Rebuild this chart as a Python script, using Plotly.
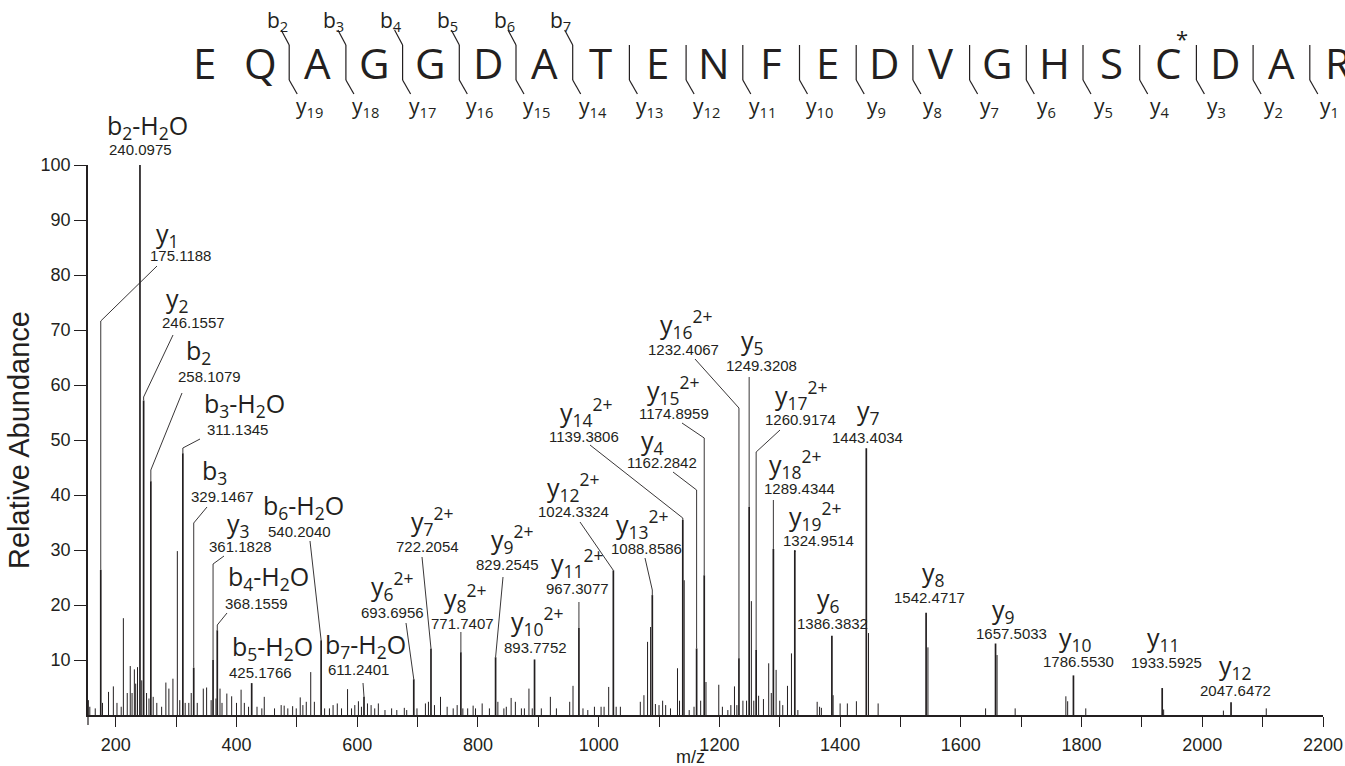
import plotly.graph_objects as go

# ---------------- data ----------------
ion_keys = ["y1", "b2-H2O", "y2", "b2", "b3-H2O", "b3", "y3", "b4-H2O", "b5-H2O", "b6-H2O",
            "b7-H2O", "y6 2+", "y7 2+", "y8 2+", "y9 2+", "y10 2+", "y11 2+", "y12 2+", "y13 2+",
            "y14 2+", "y4", "y15 2+", "y16 2+", "y5", "y17 2+", "y18 2+", "y19 2+", "y6", "y7",
            "y8", "y9", "y10", "y11", "y12"]
ion_mz = [175.1188, 240.0975, 246.1557, 258.1079, 311.1345, 329.1467, 361.1828, 368.1559,
          425.1766, 540.2040, 611.2401, 693.6956, 722.2054, 771.7407, 829.2545, 893.7752,
          967.3077, 1024.3324, 1088.8586, 1139.3806, 1162.2842, 1174.8959, 1232.4067,
          1249.3208, 1260.9174, 1289.4344, 1324.9514, 1386.3832, 1443.4034, 1542.4717,
          1657.5033, 1786.5530, 1933.5925, 2047.6472]
ion_int = [26.4, 100, 57.2, 42.5, 47.6, 8.6, 10.0, 15.4, 5.8, 13.6, 3.3, 6.5, 12.1, 11.4, 10.5,
           10.1, 15.8, 26.3, 21.8, 35.5, 12.1, 25.4, 10.3, 37.8, 11.8, 30.2, 29.9, 14.4, 48.5,
           18.6, 13.0, 7.2, 4.9, 2.3]

other_mz = [154.6, 157, 166, 178, 188, 196, 202, 209, 212.6, 219, 224, 227, 230.8, 233, 236, 243,
            251, 255, 262, 268, 276, 283, 288, 294.7, 302, 306, 315, 321, 325, 335, 345, 350.5,
            358, 366, 372.7, 376, 384, 392, 400, 407.6, 413, 420, 434, 442,
            446, 463, 474, 479, 485, 493, 499, 505.6, 510, 515.6, 523, 529, 546, 554, 560, 567,
            574, 584, 590.6, 596, 602, 607, 617, 623, 629, 635, 646, 657, 665.6, 678, 682, 699,
            713, 718, 728, 738, 749, 759, 765.6,
            775, 783, 792, 796, 807, 819, 833, 843, 847, 855, 862, 872, 877, 884.5, 890, 905,
            920, 930, 952, 957.5, 974, 982, 993, 1004, 1009, 1016.6, 1029, 1036,
            1069, 1075, 1081, 1086, 1094, 1100, 1106, 1111, 1119, 1130.6, 1134, 1141.7, 1150,
            1158, 1169, 1177.8, 1199, 1205, 1214, 1219, 1225, 1229, 1239, 1245, 1253, 1257,
            1265, 1273, 1281.7, 1286, 1294, 1300, 1305, 1312.8, 1319.4, 1330, 1362, 1366, 1369,
            1388.4, 1400, 1412, 1427, 1447, 1463, 1545.5, 1641, 1660, 1690, 1774, 1777, 1807,
            1936, 2035, 2106]
other_int = [2.7, 1.5, 1.2, 2.2, 4.2, 5.2, 2.2, 1.5, 17.6, 4.0, 8.9, 4.0, 8.3, 5.7, 8.7, 6.3,
             4.0, 3.0, 3.3, 2.2, 1.5, 5.9, 4.8, 6.6, 29.8, 2.7, 2.2, 2.2, 4.0, 2.2, 4.8, 5.0,
             2.7, 3.0, 4.8, 2.2, 3.9, 3.4, 2.2, 4.6, 2.2, 1.5, 1.5, 1.2,
             3.3, 1.2, 1.8, 1.7, 1.2, 1.6, 1.2, 3.2, 1.8, 2.4, 7.8, 2.4, 1.2, 1.2, 1.8, 2.1,
             1.2, 4.7, 1.2, 1.8, 2.5, 1.5, 2.1, 1.8, 1.2, 2.1, 0.9, 1.2, 0.9, 1.3, 0.9, 1.2,
             2.1, 2.4, 1.8, 3.3, 1.5, 1.2, 1.8,
             1.2, 1.2, 1.7, 1.2, 2.1, 1.2, 2.4, 1.2, 1.5, 3.1, 2.4, 1.2, 1.2, 4.8, 1.2, 1.2,
             3.3, 1.2, 2.4, 5.3, 1.2, 0.9, 1.5, 1.5, 1.5, 5.1, 1.5, 1.5,
             2.4, 3.6, 13.3, 16.0, 2.0, 1.8, 2.6, 1.8, 1.2, 8.5, 2.6, 24.5, 0.9,
             1.5, 2.6, 6.0, 5.5, 1.5, 0.9, 1.8, 5.2, 1.8, 2.6, 2.6, 20.7, 2.6,
             3.5, 2.9, 9.4, 4.0, 8.2, 2.6, 1.8, 5.3, 11.2, 0.9, 2.4, 1.5, 1.3,
             3.6, 2.1, 2.1, 2.5, 14.9, 2.1, 12.3, 1.2, 10.9, 1.2, 3.4, 2.5, 1.2,
             1.0, 0.8, 1.2]

sequence = list("EQAGGDATENFEDVGHSCDAR")
b_ion_numbers = [2, 3, 4, 5, 6, 7]
modified_residue = 17  # C*

x_tick_values = list(range(200, 2201, 100))
x_tick_text = [str(v) if v % 200 == 0 else "" for v in x_tick_values]
y_tick_values = list(range(10, 101, 10))

ion_html = {
    "y1": "y<sub>1</sub>", "b2-H2O": "b<sub>2</sub>-H<sub>2</sub>O", "y2": "y<sub>2</sub>",
    "b2": "b<sub>2</sub>", "b3-H2O": "b<sub>3</sub>-H<sub>2</sub>O", "b3": "b<sub>3</sub>",
    "y3": "y<sub>3</sub>", "b4-H2O": "b<sub>4</sub>-H<sub>2</sub>O",
    "b5-H2O": "b<sub>5</sub>-H<sub>2</sub>O", "b6-H2O": "b<sub>6</sub>-H<sub>2</sub>O",
    "b7-H2O": "b<sub>7</sub>-H<sub>2</sub>O",
}
for k in ion_keys:
    if k not in ion_html:
        if " 2+" in k:
            ion_html[k] = "y<sub>%s</sub><sup>2+</sup>" % k[1:].split()[0]
        else:
            ion_html[k] = "y<sub>%s</sub>" % k[1:]

# ---------------- layout geometry (screen pixels) ----------------
W, H = 1345, 766
PL, PR, PT, PB = 88, 1323, 165, 715
X0, X1 = 154, 2200
INK = "#231f20"


def px2mz(px):
    return X0 + (px - PL) * (X1 - X0) / (PR - PL)


def py2ab(py):
    return (PB - py) * 100.0 / (PB - PT)


def ppx(px):
    return (px - PL) / (PR - PL)


def ppy(py):
    return (PB - py) / (PB - PT)


# label placement: name centre, number centre (screen pixels)
label_pos = {
    "b2-H2O": ((147, 126), (140, 149)),
    "y1": ((167, 234), (180, 256)),
    "y2": ((177, 299), (193, 322)),
    "b2": ((198, 351), (209, 376)),
    "b3-H2O": ((244, 404), (237, 429)),
    "b3": ((214, 471), (222, 496)),
    "y3": ((238, 524), (240, 546)),
    "b4-H2O": ((268, 577), (256, 603)),
    "b5-H2O": ((272, 647), (260, 672)),
    "b6-H2O": ((303, 506), (299, 531)),
    "b7-H2O": ((365, 645), (358, 669)),
    "y6 2+": ((392, 586), (392, 612)),
    "y7 2+": ((432, 521), (427, 546)),
    "y8 2+": ((465, 598), (462, 623)),
    "y9 2+": ((512, 539), (507, 564)),
    "y10 2+": ((537, 621), (535, 647)),
    "y11 2+": ((577, 563), (577, 588)),
    "y12 2+": ((573, 487), (573, 511)),
    "y13 2+": ((642, 524), (646, 548)),
    "y14 2+": ((586, 412), (584, 436)),
    "y4": ((652, 441), (662, 463)),
    "y15 2+": ((673, 390), (674, 413)),
    "y16 2+": ((686, 324), (683, 349)),
    "y5": ((752, 341), (761, 365)),
    "y17 2+": ((801, 395), (800, 419)),
    "y18 2+": ((795, 464), (799, 488)),
    "y19 2+": ((816, 516), (818, 540)),
    "y6": ((828, 599), (832, 623)),
    "y7": ((868, 411), (867, 437)),
    "y8": ((933, 573), (930, 597)),
    "y9": ((1003, 610), (1011, 633)),
    "y10": ((1075, 638), (1078, 661)),
    "y11": ((1163, 638), (1166, 662)),
    "y12": ((1235, 666), (1235, 690)),
}

# leader lines: (start px, start py, bend py); start px None -> straight down
leaders = {
    "y1": (157, 266, 321), "y2": (173, 335, 397), "b2": (182, 393, 470),
    "b3-H2O": (200, 439, 448), "b3": (207, 507, 523), "y3": (224, 556, 564),
    "b4-H2O": (227, 613, 625), "b6-H2O": (310, 541, 640), "b7-H2O": (363, 683, 692),
    "y6 2+": (406, 623, 677), "y7 2+": (422, 557, 647), "y8 2+": (None, 632, 648),
    "y9 2+": (503, 577, 657), "y11 2+": (None, 602, 617), "y12 2+": (580, 522, 570),
    "y13 2+": (645, 558, 590), "y14 2+": (590, 445, 518), "y4": (673, 472, 490),
    "y15 2+": (682, 423, 438), "y16 2+": (695, 359, 408), "y5": (None, 377, 380),
    "y17 2+": (780, 430, 452), "y18 2+": (None, 500, 505), "y19 2+": (None, 550, 552),
}

fig = go.Figure()


def stick_xy(mzs, ints):
    xs, ys = [], []
    for m, v in zip(mzs, ints):
        xs += [m, m, None]
        ys += [0, v, None]
    return xs, ys


sx, sy = stick_xy(other_mz, other_int)
fig.add_trace(go.Scatter(x=sx, y=sy, mode="lines", line=dict(color=INK, width=1.0),
                         hoverinfo="skip"))
sx, sy = stick_xy(ion_mz, ion_int)
fig.add_trace(go.Scatter(x=sx, y=sy, mode="lines", line=dict(color=INK, width=1.7),
                         hoverinfo="skip"))

# leader lines
lx, ly = [], []
for key, mz, inten in zip(ion_keys, ion_mz, ion_int):
    if key not in leaders:
        continue
    spx, spy, bpy = leaders[key]
    start_x = mz if spx is None else px2mz(spx)
    lx += [start_x, mz, mz, None]
    ly += [py2ab(spy), py2ab(bpy), inten, None]
fig.add_trace(go.Scatter(x=lx, y=ly, mode="lines", line=dict(color=INK, width=0.9),
                         hoverinfo="skip"))

annotations = []
NAME_FONT = dict(family="Open Sans, Liberation Sans, sans-serif", size=25, color=INK)
NUM_FONT = dict(family="Liberation Sans, Arial, sans-serif", size=15, color=INK)
for key, mz in zip(ion_keys, ion_mz):
    (nx, ny), (mx, my) = label_pos[key]
    annotations.append(dict(x=ppx(nx), y=ppy(ny), xref="paper", yref="paper",
                            text=ion_html[key], showarrow=False, font=NAME_FONT,
                            xanchor="center", yanchor="middle"))
    annotations.append(dict(x=ppx(mx), y=ppy(my), xref="paper", yref="paper",
                            text="%.4f" % mz, showarrow=False, font=NUM_FONT,
                            xanchor="center", yanchor="middle"))

# peptide sequence graphic
SEQ_X0, SEQ_DX, SEQ_Y = 204, 56.7, 62
shapes = []
for i, aa in enumerate(sequence):
    annotations.append(dict(x=ppx(SEQ_X0 + SEQ_DX * i), y=ppy(SEQ_Y), xref="paper", yref="paper",
                            text=aa, showarrow=False, xanchor="center", yanchor="middle",
                            font=dict(family="Open Sans, Liberation Sans, sans-serif", size=42,
                                      color=INK)))
annotations.append(dict(x=ppx(SEQ_X0 + SEQ_DX * modified_residue + 14), y=ppy(38), xref="paper",
                        yref="paper", text="*", showarrow=False, xanchor="center",
                        yanchor="middle", font=dict(family="Open Sans", size=22, color=INK)))
n = len(sequence)
FRAG_FONT = dict(family="Open Sans, Liberation Sans, sans-serif", size=21, color=INK)
for k in range(2, n):
    xm = SEQ_X0 + SEQ_DX * (k - 1) + 28.5
    line_style = dict(color=INK, width=1.2)
    shapes.append(dict(type="line", xref="paper", yref="paper", x0=ppx(xm), x1=ppx(xm),
                       y0=ppy(45), y1=ppy(80), line=line_style))
    shapes.append(dict(type="line", xref="paper", yref="paper", x0=ppx(xm), x1=ppx(xm + 8),
                       y0=ppy(80), y1=ppy(94), line=line_style))
    annotations.append(dict(x=ppx(xm + 20), y=ppy(107), xref="paper", yref="paper",
                            text="y<sub>%d</sub>" % (n - k), showarrow=False,
                            xanchor="center", yanchor="middle", font=FRAG_FONT))
    if k in b_ion_numbers:
        shapes.append(dict(type="line", xref="paper", yref="paper", x0=ppx(xm - 8), x1=ppx(xm),
                           y0=ppy(30), y1=ppy(45), line=line_style))
        annotations.append(dict(x=ppx(xm - 12), y=ppy(21), xref="paper", yref="paper",
                                text="b<sub>%d</sub>" % k, showarrow=False,
                                xanchor="center", yanchor="middle", font=FRAG_FONT))

# x-axis title placed as in the reference (between tick labels)
AXIS_FONT = dict(family="Liberation Sans, Arial, sans-serif", size=18, color=INK)
annotations.append(dict(x=ppx(690), y=ppy(757), xref="paper", yref="paper", text="m/z",
                        showarrow=False, xanchor="center", yanchor="middle", font=AXIS_FONT))

# small tick at the left end of the x axis
shapes.append(dict(type="line", xref="paper", yref="paper", x0=0, x1=0, y0=0, y1=ppy(725),
                   line=dict(color=INK, width=1.2)))

fig.update_layout(
    width=W, height=H,
    margin=dict(l=PL, r=W - PR, t=PT, b=H - PB, autoexpand=False),
    paper_bgcolor="white", plot_bgcolor="white", showlegend=False,
    annotations=annotations, shapes=shapes,
    xaxis=dict(range=[X0, X1], showgrid=False, zeroline=False, showline=True, linecolor=INK,
               linewidth=1.5, ticks="outside", ticklen=10, tickwidth=1.2, tickcolor=INK,
               tickvals=x_tick_values, ticktext=x_tick_text, tickfont=AXIS_FONT,
               ticklabelstandoff=3),
    yaxis=dict(range=[0, 100], showgrid=False, zeroline=False, showline=True, linecolor=INK,
               linewidth=1.5, ticks="outside", ticklen=12, tickwidth=1.2, tickcolor=INK,
               tickvals=y_tick_values, tickfont=AXIS_FONT, ticklabelstandoff=0,
               title=dict(text="Relative Abundance",
                          font=dict(family="Liberation Sans, Arial, sans-serif", size=29,
                                    color=INK), standoff=2)),
)

fig.write_html("out.html", config={"displayModeBar": False},
               post_script="document.body.style.margin='0';"
                           "document.body.style.overflow='hidden';")
